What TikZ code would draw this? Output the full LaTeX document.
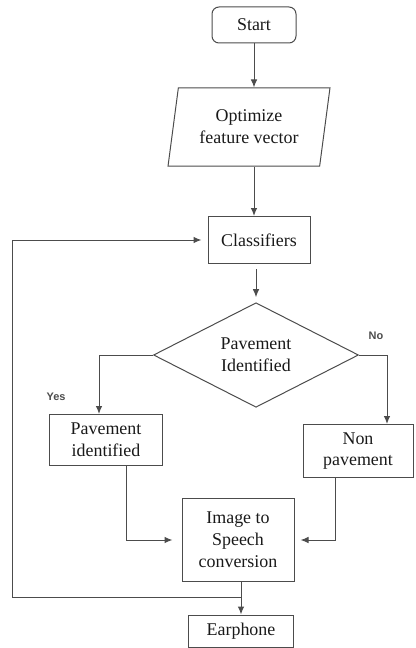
\documentclass[tikz,border=0pt]{standalone}
\usepackage{fontspec}
\setmainfont{Liberation Serif}
\newfontfamily\answerfont{Liberation Sans}
\usetikzlibrary{shapes.geometric}
\usetikzlibrary{arrows.meta}

\tikzset{
  box/.style = {draw = black!70, line width = 1bp, text = black!90,
    align = center, inner sep = 0pt, font = \fontsize{18}{22}\selectfont},
  terminal/.style = {box, rounded corners = 7bp},
  inout/.style = {box, trapezium, trapezium left angle = 78,
    trapezium right angle = 102, trapezium stretches = true},
  decision/.style = {box, diamond},
  flow/.style = {draw = black!70, line width = 1bp,
    -{Latex[length = 8bp, width = 6.5bp]}},
  answer/.style = {text = black!70, font = \answerfont\bfseries\fontsize{11}{13}\selectfont}
}

\begin{document}
\begin{tikzpicture}[x = 1bp, y = -1bp]
  \useasboundingbox (0, 0) rectangle (415, 648);

  \node[terminal, minimum width = 84bp, minimum height = 36bp] (start) at (254, 25) {Start};
  \node[inout, minimum width = 162bp, minimum height = 78bp] (optimize) at (249, 127)
  {Optimize\\feature vector};
  \node[box, minimum width = 102bp, minimum height = 47bp] (classify) at (259, 240) {Classifiers};
  \node[decision, minimum width = 205bp, minimum height = 104bp] (decide) at (256, 355)
  {Pavement\\Identified};
  \node[box, minimum width = 113bp, minimum height = 51bp] (paveyes) at (106, 440)
  {Pavement\\identified};
  \node[box, minimum width = 110bp, minimum height = 53bp] (paveno) at (358, 451)
  {Non\\pavement};
  \node[box, minimum width = 112bp, minimum height = 83bp] (speech) at (238, 540)
  {Image to\\Speech\\conversion};
  \node[box, minimum width = 105bp, minimum height = 32bp] (earphone) at (241, 631) {Earphone};

  \node[answer] (yes) at (56, 397) {Yes};
  \node[answer] (no) at (376, 336) {No};

  \coordinate (back) at (12, 597);

  \draw[flow] (start.south) -- (start.south |- optimize.north);
  \draw[flow] (start.south |- optimize.south) -- (start.south |- classify.north);
  \draw[flow, shorten <= 5bp, shorten >= 5bp] (classify.south -| decide.north) -- (decide.north);
  \draw[flow] (decide.west) -| ([xshift = -7bp]paveyes.north);
  \draw[flow] (decide.east) -| ([xshift = 29bp]paveno.north);
  \draw[flow] ([xshift = 20bp]paveyes.south) |- ([xshift = -9bp]speech.west);
  \draw[flow] ([xshift = -23bp]paveno.south) |- ([xshift = 6bp]speech.east);
  \draw[flow] (speech.south -| earphone.north) -- (earphone.north);
  \draw[flow] (back -| earphone) -- (back) |- ([xshift = -6bp]classify.west);
\end{tikzpicture}
\end{document}
